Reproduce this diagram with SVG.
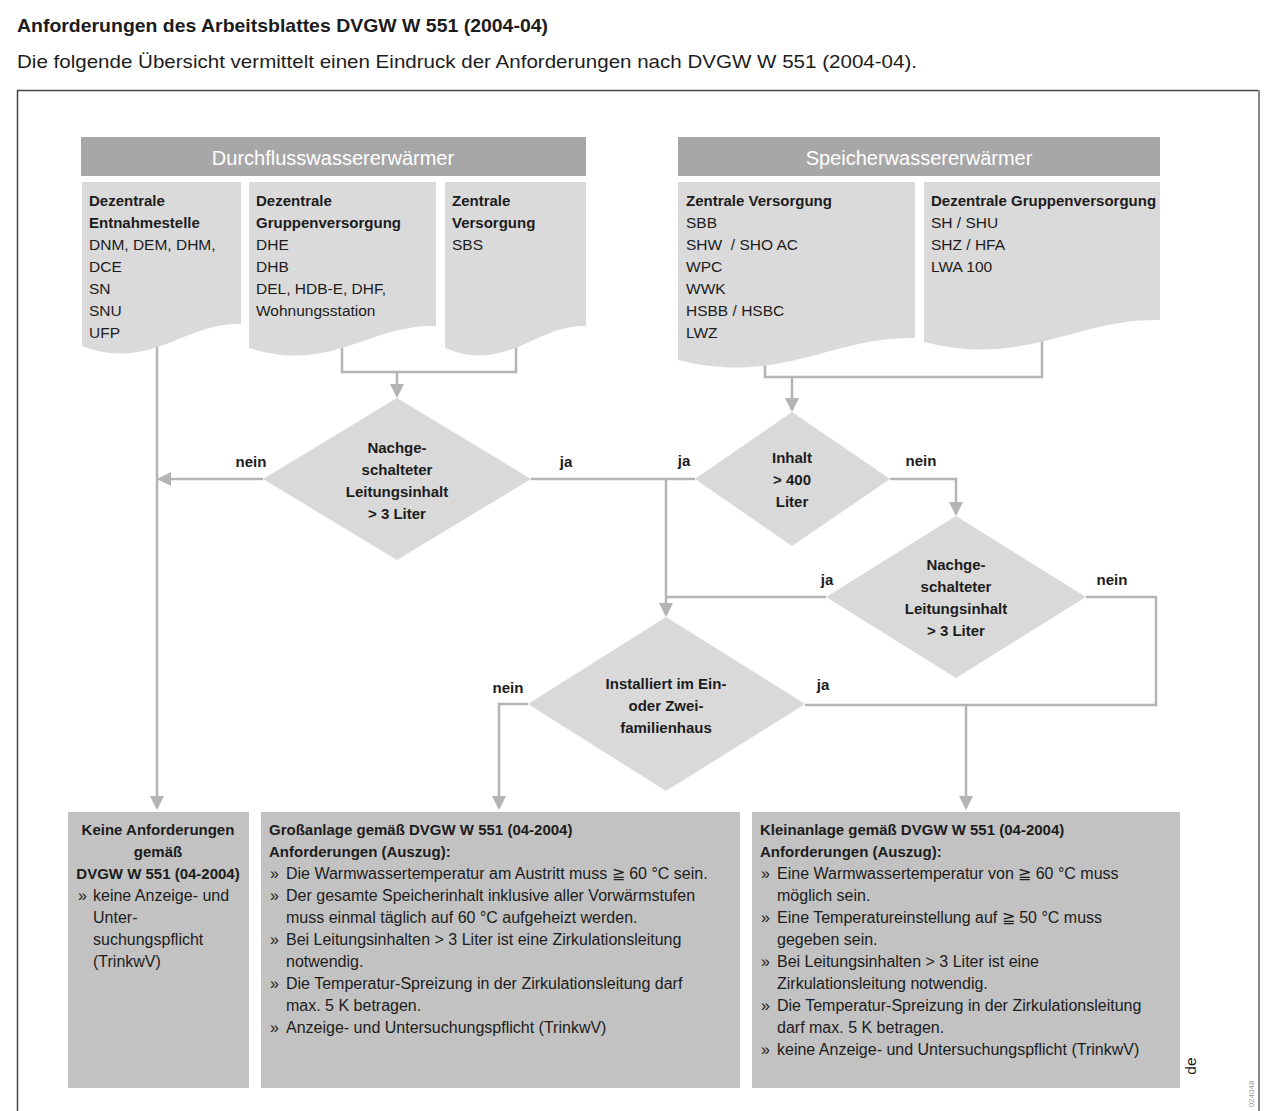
<svg xmlns="http://www.w3.org/2000/svg" width="1280" height="1111" viewBox="0 0 1280 1111">
<style>
text{font-family:"Liberation Sans",Arial,sans-serif;fill:#1c1c1c}
.ttl{font-size:19px;font-weight:bold}
.sub{font-size:19px}
.hdr{font-size:20px;fill:#ffffff}
.b{font-size:15px;font-weight:bold}
.r{font-size:15.5px}
.rb{font-size:16px}
.c{text-anchor:middle}
.lbl{font-size:15px;font-weight:bold;text-anchor:middle}
.bar{fill:#a7a7a7}
.doc{fill:#dadada}
.dia{fill:#d9d9d9}
.box{fill:#c2c2c2}
.con{fill:none;stroke:#b4b4b4;stroke-width:2.5}
.arr{marker-end:url(#ah)}
</style>
<defs>
<marker id="ah" markerUnits="userSpaceOnUse" markerWidth="14" markerHeight="14" viewBox="0 0 14 14" refX="12" refY="7" orient="auto">
<path d="M0,0 L14,7 L0,14 Z" fill="#b4b4b4"/>
</marker>
</defs>
<rect width="1280" height="1111" fill="#ffffff"/>
<text class="ttl" x="17" y="32" textLength="531" lengthAdjust="spacingAndGlyphs">Anforderungen des Arbeitsblattes DVGW W 551 (2004-04)</text>
<text class="sub" x="17" y="68" textLength="900" lengthAdjust="spacingAndGlyphs">Die folgende Übersicht vermittelt einen Eindruck der Anforderungen nach DVGW W 551 (2004-04).</text>
<path d="M17.5,1111 V90.5 H1258" fill="none" stroke="#444" stroke-width="1.5"/>
<path d="M1259,90 V1111" fill="none" stroke="#888" stroke-width="2"/>

<g id="connectors">
<path class="con arr" d="M157,340 V808"/>
<path class="con" d="M342,340 V372 H516 V330"/>
<path class="con arr" d="M397,372 V396"/>
<path class="con" d="M765,350 V377 H1042 V330"/>
<path class="con arr" d="M792,377 V410"/>
<path class="con arr" d="M263,479 H159"/>
<path class="con" d="M531,479 H695"/>
<path class="con arr" d="M666,479 V615"/>
<path class="con arr" d="M890,479 H956 V514"/>
<path class="con" d="M826,597 H666"/>
<path class="con" d="M1086,597 H1156 V705 H805"/>
<path class="con arr" d="M966,705 V808"/>
<path class="con arr" d="M528,704 H499 V808"/>
</g>

<g id="hdr-durchfluss">
<rect class="bar" x="81" y="137" width="505" height="39"/>
<text class="hdr c" x="333" y="165">Durchflusswassererwärmer</text>
</g>
<g id="hdr-speicher">
<rect class="bar" x="678" y="137" width="482" height="39"/>
<text class="hdr c" x="919" y="165">Speicherwassererwärmer</text>
</g>

<g id="doc-dezentrale-entnahme">
<path class="doc" d="M82,182 H241 V324 C185,322 150,372 82,346 Z"/>
<text class="b" x="89" y="206">Dezentrale</text>
<text class="b" x="89" y="228">Entnahmestelle</text>
<text class="r" x="89" y="250">DNM, DEM, DHM,</text>
<text class="r" x="89" y="272">DCE</text>
<text class="r" x="89" y="294">SN</text>
<text class="r" x="89" y="316">SNU</text>
<text class="r" x="89" y="338">UFP</text>
</g>
<g id="doc-dezentrale-gruppe-d">
<path class="doc" d="M249,182 H436 V326 C370,324 330,374 249,348 Z"/>
<text class="b" x="256" y="206">Dezentrale</text>
<text class="b" x="256" y="228">Gruppenversorgung</text>
<text class="r" x="256" y="250">DHE</text>
<text class="r" x="256" y="272">DHB</text>
<text class="r" x="256" y="294">DEL, HDB-E, DHF,</text>
<text class="r" x="256" y="316">Wohnungsstation</text>
</g>
<g id="doc-zentrale-d">
<path class="doc" d="M445,182 H586 V326 C537,324 506,374 445,348 Z"/>
<text class="b" x="452" y="206">Zentrale</text>
<text class="b" x="452" y="228">Versorgung</text>
<text class="r" x="452" y="250">SBS</text>
</g>
<g id="doc-zentrale-s">
<path class="doc" d="M678,182 H915 V338 C832,336 780,386 678,360 Z"/>
<text class="b" x="686" y="206">Zentrale Versorgung</text>
<text class="r" x="686" y="228">SBB</text>
<text class="r" x="686" y="250" xml:space="preserve">SHW  / SHO AC</text>
<text class="r" x="686" y="272">WPC</text>
<text class="r" x="686" y="294">WWK</text>
<text class="r" x="686" y="316">HSBB / HSBC</text>
<text class="r" x="686" y="338">LWZ</text>
</g>
<g id="doc-dezentrale-gruppe-s">
<path class="doc" d="M924,182 H1160 V320 C1077,318 1025,368 924,342 Z"/>
<text class="b" x="931" y="206">Dezentrale Gruppenversorgung</text>
<text class="r" x="931" y="228">SH / SHU</text>
<text class="r" x="931" y="250">SHZ / HFA</text>
<text class="r" x="931" y="272">LWA 100</text>
</g>

<g id="dia-leitung1">
<path class="dia" d="M397,398 L531,479 L397,560 L263,479 Z"/>
<text class="b c" x="397" y="453">Nachge-</text>
<text class="b c" x="397" y="475">schalteter</text>
<text class="b c" x="397" y="497">Leitungsinhalt</text>
<text class="b c" x="397" y="519">&gt; 3 Liter</text>
</g>
<g id="dia-inhalt">
<path class="dia" d="M792,412 L890,479 L792,546 L695,479 Z"/>
<text class="b c" x="792" y="463">Inhalt</text>
<text class="b c" x="792" y="485">&gt; 400</text>
<text class="b c" x="792" y="507">Liter</text>
</g>
<g id="dia-leitung2">
<path class="dia" d="M956,516 L1086,597 L956,678 L826,597 Z"/>
<text class="b c" x="956" y="570">Nachge-</text>
<text class="b c" x="956" y="592">schalteter</text>
<text class="b c" x="956" y="614">Leitungsinhalt</text>
<text class="b c" x="956" y="636">&gt; 3 Liter</text>
</g>
<g id="dia-haus">
<path class="dia" d="M666,617 L805,704 L666,791 L528,704 Z"/>
<text class="b c" x="666" y="689">Installiert im Ein-</text>
<text class="b c" x="666" y="711">oder Zwei-</text>
<text class="b c" x="666" y="733">familienhaus</text>
</g>

<g id="labels">
<text class="lbl" x="251" y="467">nein</text>
<text class="lbl" x="566" y="467">ja</text>
<text class="lbl" x="684" y="466">ja</text>
<text class="lbl" x="921" y="466">nein</text>
<text class="lbl" x="827" y="585">ja</text>
<text class="lbl" x="1112" y="585">nein</text>
<text class="lbl" x="508" y="693">nein</text>
<text class="lbl" x="823" y="690">ja</text>
</g>

<g id="box-keine">
<rect class="box" x="68" y="812" width="181" height="276"/>
<text class="b c" x="158" y="835">Keine Anforderungen</text>
<text class="b c" x="158" y="857">gemäß</text>
<text class="b c" x="158" y="879">DVGW W 551 (04-2004)</text>
<text class="rb" x="78" y="901">»</text>
<text class="rb" x="93" y="901">keine Anzeige- und</text>
<text class="rb" x="93" y="923">Unter-</text>
<text class="rb" x="93" y="945">suchungspflicht</text>
<text class="rb" x="93" y="967">(TrinkwV)</text>
</g>
<g id="box-gross">
<rect class="box" x="261" y="812" width="479" height="276"/>
<text class="b" x="269" y="835">Großanlage gemäß DVGW W 551 (04-2004)</text>
<text class="b" x="269" y="857">Anforderungen (Auszug):</text>
<text class="rb" x="270" y="879">»</text>
<text class="rb" x="286" y="879">Die Warmwassertemperatur am Austritt muss ≧ 60 °C sein.</text>
<text class="rb" x="270" y="901">»</text>
<text class="rb" x="286" y="901">Der gesamte Speicherinhalt inklusive aller Vorwärmstufen</text>
<text class="rb" x="286" y="923">muss einmal täglich auf 60 °C aufgeheizt werden.</text>
<text class="rb" x="270" y="945">»</text>
<text class="rb" x="286" y="945">Bei Leitungsinhalten &gt; 3 Liter ist eine Zirkulationsleitung</text>
<text class="rb" x="286" y="967">notwendig.</text>
<text class="rb" x="270" y="989">»</text>
<text class="rb" x="286" y="989">Die Temperatur-Spreizung in der Zirkulationsleitung darf</text>
<text class="rb" x="286" y="1011">max. 5 K betragen.</text>
<text class="rb" x="270" y="1033">»</text>
<text class="rb" x="286" y="1033">Anzeige- und Untersuchungspflicht (TrinkwV)</text>
</g>
<g id="box-klein">
<rect class="box" x="752" y="812" width="428" height="276"/>
<text class="b" x="760" y="835">Kleinanlage gemäß DVGW W 551 (04-2004)</text>
<text class="b" x="760" y="857">Anforderungen (Auszug):</text>
<text class="rb" x="761" y="879">»</text>
<text class="rb" x="777" y="879">Eine Warmwassertemperatur von ≧ 60 °C muss</text>
<text class="rb" x="777" y="901">möglich sein.</text>
<text class="rb" x="761" y="923">»</text>
<text class="rb" x="777" y="923">Eine Temperatureinstellung auf ≧ 50 °C muss</text>
<text class="rb" x="777" y="945">gegeben sein.</text>
<text class="rb" x="761" y="967">»</text>
<text class="rb" x="777" y="967">Bei Leitungsinhalten &gt; 3 Liter ist eine</text>
<text class="rb" x="777" y="989">Zirkulationsleitung notwendig.</text>
<text class="rb" x="761" y="1011">»</text>
<text class="rb" x="777" y="1011">Die Temperatur-Spreizung in der Zirkulationsleitung</text>
<text class="rb" x="777" y="1033">darf max. 5 K betragen.</text>
<text class="rb" x="761" y="1055">»</text>
<text class="rb" x="777" y="1055">keine Anzeige- und Untersuchungspflicht (TrinkwV)</text>
</g>

<text class="r c" transform="translate(1196 1066) rotate(-90)" x="0" y="0">de</text>
<text class="c" transform="translate(1254 1094) rotate(-90)" x="0" y="0" style="font-size:8px;fill:#9a9a9a">024048</text>
</svg>
